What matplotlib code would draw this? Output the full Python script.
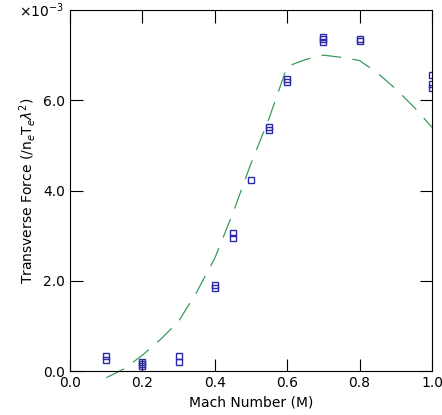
import matplotlib
matplotlib.use('Agg')
import matplotlib.pyplot as plt

# measured points (units of 1e-3)
mach_pts = [0.1, 0.1, 0.2, 0.2, 0.2, 0.3, 0.3, 0.4, 0.4, 0.45, 0.45,
            0.5, 0.55, 0.55, 0.6, 0.6, 0.7, 0.7, 0.7, 0.8, 0.8, 1.0, 1.0, 1.0]
force_pts = [0.33, 0.24, 0.20, 0.15, 0.12, 0.33, 0.20, 1.90, 1.85, 3.05, 2.95,
             4.24, 5.40, 5.35, 6.48, 6.40, 7.40, 7.35, 7.30, 7.36, 7.32, 6.55, 6.35, 6.28]

# theory curve
mach_th = [0.1, 0.15, 0.2, 0.25, 0.3, 0.35, 0.4, 0.45, 0.5, 0.55, 0.6,
           0.65, 0.7, 0.75, 0.8, 0.85, 0.9, 0.95, 1.0]
force_th = [-0.15, 0.05, 0.35, 0.7, 1.1, 1.75, 2.5, 3.5, 4.6, 5.6, 6.75,
            6.9, 7.0, 6.95, 6.88, 6.6, 6.25, 5.85, 5.4]

fig = plt.figure(figsize=(4.42, 4.15), dpi=100)
ax = fig.add_axes([70/442, 44/415, 362/442, 361/415])

ax.plot(mach_th, force_th, color='#3a9a5a', lw=0.9, dashes=(16, 9), clip_on=False)
ax.plot(mach_pts, force_pts, 's', mfc='none', mec='#2a2aa8', ms=5, mew=1)

ax.set_xlim(0, 1)
ax.set_ylim(0, 8)
ax.set_xticks([0.0, 0.2, 0.4, 0.6, 0.8, 1.0])
ax.set_yticks([0, 2, 4, 6])
ax.set_xticklabels(['0.0', '0.2', '0.4', '0.6', '0.8', '1.0'])
ax.set_yticklabels(['0.0', '2.0', '4.0', '6.0'])
ax.tick_params(direction='in', length=9, top=True, right=True, labelsize=10)
ax.set_xlabel('Mach Number (M)', fontsize=10)
ax.set_ylabel(r'Transverse Force (/n$_e$T$_e$$\lambda^2$)', fontsize=10)
fig.text(64/442, 1 - 1/415, r'$\times10^{-3}$', ha='right', va='top', fontsize=10)

fig.savefig('out.png', dpi=100)
